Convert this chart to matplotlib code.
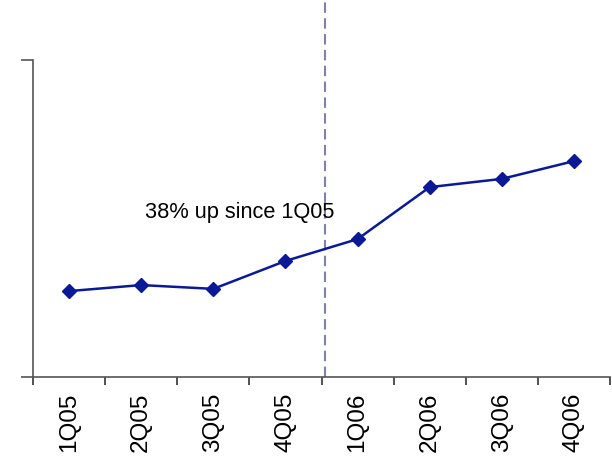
import matplotlib
matplotlib.use("Agg")
import matplotlib.pyplot as plt

plt.rcParams["font.family"] = ["Liberation Sans", "DejaVu Sans"]

# ---- data ----
quarters = ["1Q05", "2Q05", "3Q05", "4Q05", "1Q06", "2Q06", "3Q06", "4Q06"]
values = [27.1, 29.0, 27.8, 36.6, 43.5, 59.9, 62.5, 68.1]
note = "38% up since 1Q05"

# ---- plot ----
fig = plt.figure(figsize=(6.12, 4.62), dpi=100)
ax = fig.add_axes([33/612, 1 - 377/462, 577/612, 317/462])

x = list(range(len(quarters)))
ax.plot(x, values, "-", color="#0a1a96", linewidth=1.8,
        marker="D", markersize=7, markerfacecolor="#0a1a96",
        markeredgecolor="#0a1a96", zorder=3)

ax.set_xlim(-0.5, len(quarters) - 0.5)
ax.set_ylim(0, 100)

# quarter boundary marker, runs above the plot area
ax.axvline(3.55, ymin=0, ymax=377/317, color="#7f7fb0", linewidth=1.5,
           linestyle=(0, (5, 2.6)), clip_on=False, zorder=2)

ax.text(1.05, 52, note, fontsize=15.7, color="k", va="center", ha="left")

# ---- axes styling ----
for s in ["top", "right"]:
    ax.spines[s].set_visible(False)
ax.spines["left"].set_color("#555555")
ax.spines["bottom"].set_color("#555555")
ax.spines["left"].set_linewidth(1.2)
ax.spines["bottom"].set_linewidth(1.2)

ax.set_yticks([0, 100])
ax.set_yticklabels([])
ax.tick_params(axis="y", length=9, width=1.2, color="#555555")

ax.set_xticks([i - 0.5 for i in range(len(quarters) + 1)])
ax.set_xticklabels([])
ax.set_xticks(x, minor=True)
ax.set_xticklabels(quarters, minor=True, rotation=90, fontsize=17.5)
ax.tick_params(axis="x", which="major", length=6, width=1.2, color="#333333")
ax.tick_params(axis="x", which="minor", length=0, pad=11)

fig.savefig("out.png", dpi=100)
